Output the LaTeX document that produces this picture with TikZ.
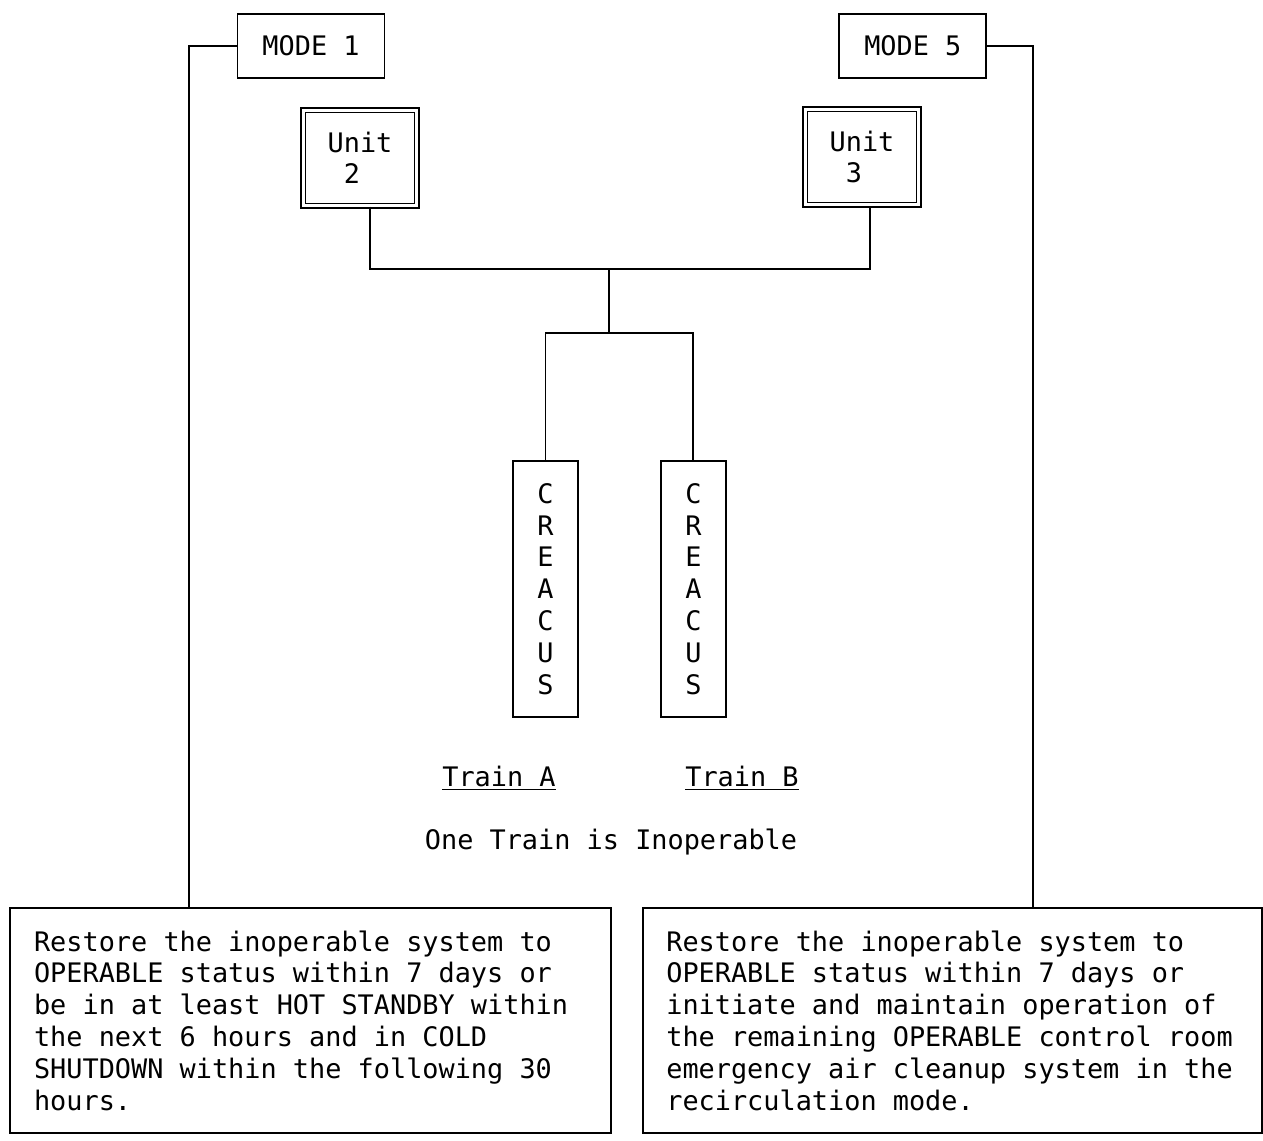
\documentclass[tikz,border=0pt]{standalone}
\usepackage{fontspec}
\setmainfont{DejaVu Sans Mono}[WordSpace={1,0,0}]
\usetikzlibrary{positioning,calc}
\newcommand\monospc{\spaceskip=\fontdimen2\font\xspaceskip=\fontdimen2\font\relax}

\begin{document}
\begin{tikzpicture}[
  x=0.02cm, y=-0.02cm,
  line width=1.1pt,
  font=\fontsize{15.3}{18.1}\selectfont,
  modebox/.style={draw, rectangle, minimum width=2.94cm, minimum height=1.28cm},
  unitbox/.style={draw, rectangle, double, double distance=1.6pt, line width=1pt, minimum width=2.27cm, minimum height=1.91cm, align=left},
  trainbox/.style={draw, rectangle, minimum width=1.3cm, minimum height=5.12cm, align=center},
  actbox/.style={draw, rectangle, minimum height=4.5cm, align=left, inner ysep=0pt}
]
\useasboundingbox (0,0) rectangle (1263,1141);

\node[modebox] (m1) at (311,46) {MODE 1};
\node[modebox, right=9.06cm of m1] (m5) {MODE 5};
\node[unitbox] (u2) at (360,158) {Unit\\\phantom{U}2};
\node[unitbox] (u3) at (862,157) {Unit\\\phantom{U}3};

\node[trainbox] (creA) at (545.5,589) {C\\R\\E\\A\\C\\U\\S};
\node[trainbox, right=1.62cm of creA] (creB) {C\\R\\E\\A\\C\\U\\S};
\node (trA) at (499,778) {\underline{Train A}};
\node (trB) at (742,778) {\underline{Train B}};
\node (note) at (611,842) {One Train is Inoperable};

\node[actbox, inner xsep=0.48cm, text width=11.06cm] (bl) at (310.5,1020.5)
  {\monospc Restore the inoperable system to\\OPERABLE status within 7 days or\\be in at least HOT STANDBY within\\the next 6 hours and in COLD\\SHUTDOWN within the following 30\\hours.};
\node[actbox, inner xsep=0.46cm, text width=11.45cm] (br) at (952.5,1020.5)
  {\monospc Restore the inoperable system to\\OPERABLE status within 7 days or\\initiate and maintain operation of\\the remaining OPERABLE control room\\emergency air cleanup system in the\\recirculation mode.};

\coordinate (jt) at (609,269);
\coordinate (jb) at (609,333);

% mode lines down to the action boxes
\draw (m1.west) -| ([xshift=3.6cm]bl.north west);
\draw (m5.east) -| ([xshift=7.82cm]br.north west);

% units to trains
\draw ([xshift=0.2cm]u2.south) |- (jt) -| ([xshift=0.16cm]u3.south);
\draw (jt) -- (jb);
\draw (creA.north) |- (jb) -| (creB.north);
\end{tikzpicture}
\end{document}
